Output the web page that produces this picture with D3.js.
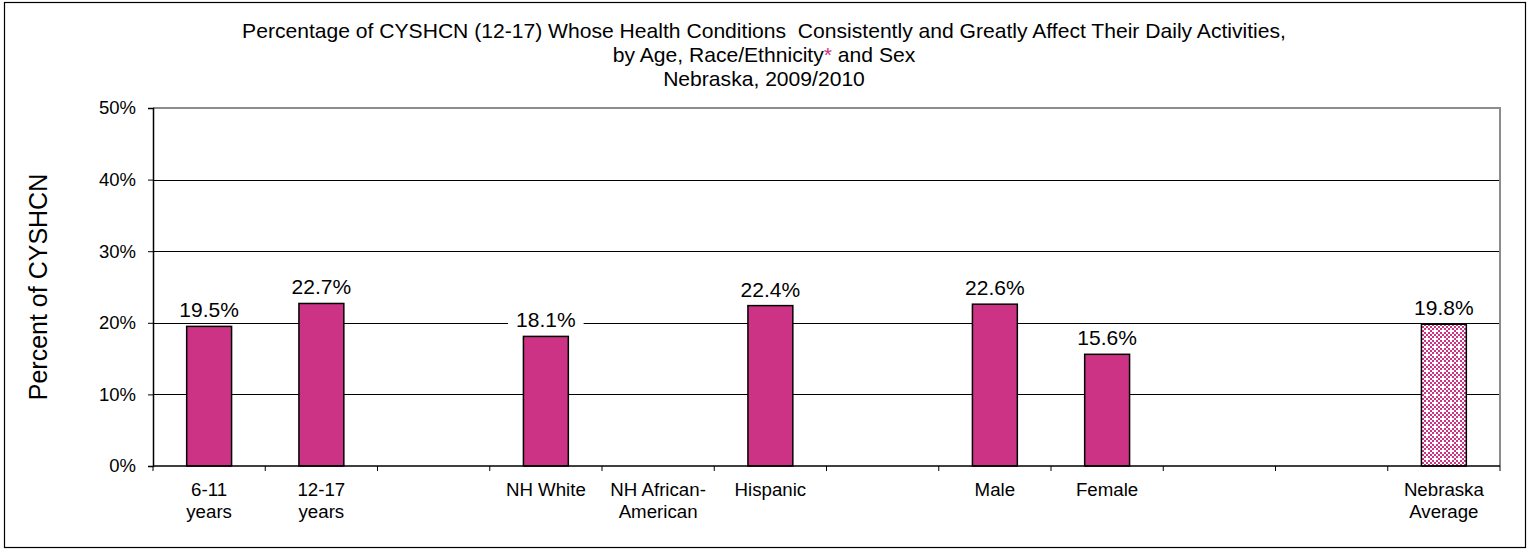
<!DOCTYPE html>
<html>
<head>
<meta charset="utf-8">
<script src="https://cdn.jsdelivr.net/npm/d3@7"></script>
<style>
  html, body { margin: 0; padding: 0; background: #fff; }
  svg { display: block; font-family: "Liberation Sans", Arial, sans-serif; }
  text { white-space: pre; }
</style>
</head>
<body>
<svg id="chart" width="1530" height="550"></svg>
<script>
// ---- data ----
const categories = [
  ["6-11", "years"], ["12-17", "years"], [""],
  ["NH White"], ["NH African-", "American"], ["Hispanic"], [""],
  ["Male"], ["Female"], [""], [""],
  ["Nebraska", "Average"]
];
const values = [19.5, 22.7, null, 18.1, null, 22.4, null, 22.6, 15.6, null, null, 19.8];
const averageIndex = [11];
const yTicks = [0, 10, 20, 30, 40, 50];
const titleLine1 = "Percentage of CYSHCN (12-17) Whose Health Conditions  Consistently and Greatly Affect Their Daily Activities,";
const titleLine2a = "by Age, Race/Ethnicity";
const titleLine2b = "*";
const titleLine2c = " and Sex";
const titleLine3 = "Nebraska, 2009/2010";
const yTitle = "Percent of CYSHCN";

// ---- layout ----
const svg = d3.select("#chart");
const plot = { left: 153, right: 1500, top: 108, bottom: 466 };
const barColor = "#CC3384";
const titleSize = 21.1;

// frame
svg.append("rect")
  .attr("x", 4.5).attr("y", 2.5)
  .attr("width", 1521).attr("height", 545)
  .attr("fill", "#fff").attr("stroke", "#000").attr("stroke-width", 1.2);

// pattern for average bar
const defs = svg.append("defs");
const pat = defs.append("pattern")
  .attr("id", "checker").attr("patternUnits", "userSpaceOnUse")
  .attr("width", 8).attr("height", 8);
pat.append("rect").attr("width", 8).attr("height", 8).attr("fill", "#fff");
for (let i = 0; i < 4; i++) {
  for (let j = 0; j < 4; j++) {
    if ((i + j) % 2 === 0 && !(i === 1 && j === 1)) {
      pat.append("rect").attr("x", i * 2).attr("y", j * 2)
        .attr("width", 2).attr("height", 2).attr("fill", barColor);
    }
  }
}

const idx = categories.map((d, i) => i);
const x = d3.scaleBand().domain(idx).range([plot.left, plot.right])
  .paddingInner(0.6).paddingOuter(0.3);
const xSlot = d3.scaleBand().domain(idx).range([plot.left, plot.right]).padding(0);
const y = d3.scaleLinear().domain([0, 50]).range([plot.bottom, plot.top]);

// gridlines
svg.append("g").selectAll("line")
  .data(yTicks.filter(t => t > 0 && t < 50))
  .join("line")
  .attr("x1", plot.left).attr("x2", plot.right)
  .attr("y1", d => Math.round(y(d)) + 0.5).attr("y2", d => Math.round(y(d)) + 0.5)
  .attr("stroke", "#000").attr("stroke-width", 1);

// plot border (top + right) gray
svg.append("path")
  .attr("d", `M${plot.left},${y(50)}H${plot.right}V${plot.bottom}`)
  .attr("fill", "none").attr("stroke", "#8c8c8c").attr("stroke-width", 2);

// bars
const barData = values.map((v, i) => ({ i, v })).filter(d => d.v !== null);
svg.append("g").selectAll("rect")
  .data(barData)
  .join("rect")
  .attr("x", d => x(d.i))
  .attr("width", x.bandwidth())
  .attr("y", d => y(d.v))
  .attr("height", d => y(0) - y(d.v))
  .attr("fill", d => averageIndex.includes(d.i) ? "url(#checker)" : barColor)
  .attr("stroke", "#000").attr("stroke-width", 1.5);

// value labels with white background
const lblG = svg.append("g");
barData.forEach(d => {
  const g = lblG.append("g");
  const cx = x(d.i) + x.bandwidth() / 2;
  const by = y(d.v) - 9;
  const t = g.append("text")
    .attr("x", cx).attr("y", by)
    .attr("text-anchor", "middle")
    .attr("font-size", 21)
    .attr("fill", "#000")
    .text(d.v.toFixed(1) + "%");
  const bb = t.node().getBBox();
  g.insert("rect", "text")
    .attr("x", bb.x - 8).attr("y", bb.y + 2)
    .attr("width", bb.width + 16).attr("height", (by + 2) - (bb.y + 2))
    .attr("fill", "#fff");
});

// y axis
const yAxis = d3.axisLeft(y).tickValues(yTicks).tickFormat(d => d + "%")
  .tickSize(5).tickPadding(12);
const ya = svg.append("g").attr("transform", `translate(${plot.left},0)`).call(yAxis);
ya.select(".domain").attr("stroke", "#000").attr("stroke-width", 1.5);
ya.selectAll(".tick line").attr("stroke", "#000");
ya.selectAll(".tick text").attr("font-size", 18.5).attr("fill", "#000")
  .attr("font-family", '"Liberation Sans", Arial, sans-serif');

// x axis
const xa = svg.append("g").attr("transform", `translate(0,${plot.bottom})`);
xa.append("line").attr("x1", plot.left).attr("x2", plot.right)
  .attr("y1", 0).attr("y2", 0).attr("stroke", "#000").attr("stroke-width", 1.5);
const bounds = idx.map(i => xSlot(i)).concat([xSlot(idx[idx.length - 1]) + xSlot.bandwidth()]);
xa.selectAll("line.tk").data(bounds).join("line").attr("class", "tk")
  .attr("x1", d => d).attr("x2", d => d).attr("y1", 0).attr("y2", 5)
  .attr("stroke", "#000").attr("stroke-width", 1);
categories.forEach((lines, i) => {
  const t = xa.append("text")
    .attr("x", xSlot(i) + xSlot.bandwidth() / 2)
    .attr("y", 30)
    .attr("text-anchor", "middle")
    .attr("font-size", 18.7)
    .attr("fill", "#000");
  lines.forEach((ln, k) => {
    t.append("tspan").attr("x", xSlot(i) + xSlot.bandwidth() / 2)
      .attr("dy", k === 0 ? 0 : 21.5).text(ln);
  });
});

// y title
svg.append("text")
  .attr("transform", `translate(47,${(plot.top + plot.bottom) / 2}) rotate(-90)`)
  .attr("text-anchor", "middle")
  .attr("font-size", 25)
  .attr("fill", "#000")
  .text(yTitle);

// title
const cxT = 764;
svg.append("text").attr("x", cxT).attr("y", 38).attr("text-anchor", "middle")
  .attr("font-size", titleSize).attr("fill", "#000").text(titleLine1);
const t2 = svg.append("text").attr("x", cxT).attr("y", 62).attr("text-anchor", "middle")
  .attr("font-size", titleSize).attr("fill", "#000");
t2.append("tspan").text(titleLine2a);
t2.append("tspan").attr("fill", barColor).text(titleLine2b);
t2.append("tspan").text(titleLine2c);
svg.append("text").attr("x", cxT).attr("y", 86).attr("text-anchor", "middle")
  .attr("font-size", titleSize).attr("fill", "#000").text(titleLine3);
</script>
</body>
</html>
